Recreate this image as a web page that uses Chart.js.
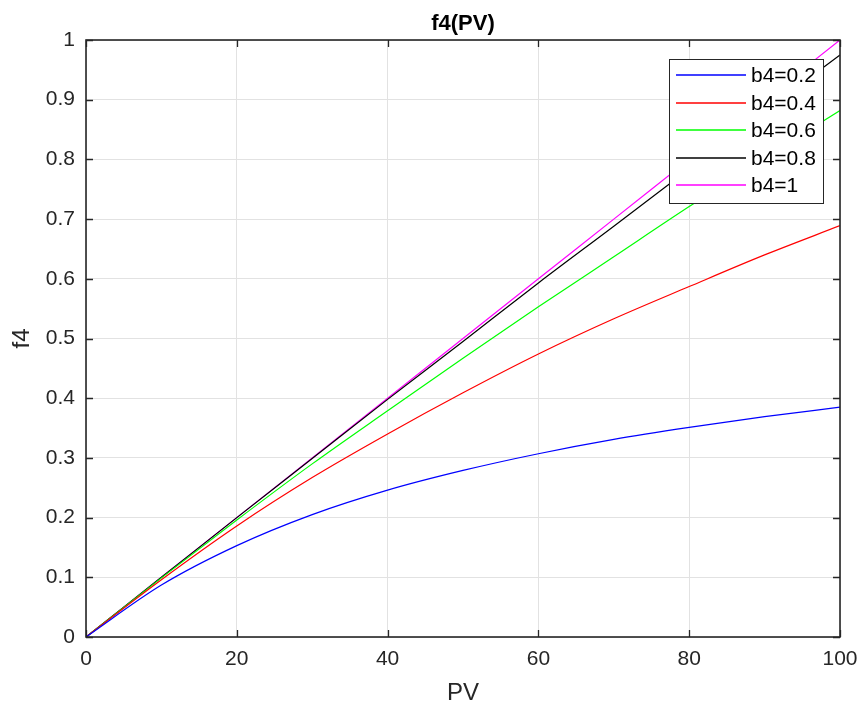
<!DOCTYPE html>
<html>
<head>
<meta charset="utf-8">
<script src="https://cdn.jsdelivr.net/npm/chart.js@4"></script>
<style>
  html, body { margin: 0; padding: 0; background: #ffffff; }
  #wrap { width: 862px; height: 706px; }
</style>
</head>
<body>
<div id="wrap"><canvas id="c" width="862" height="706"></canvas></div>
<script>
// PV sample points and f4 values for each b4 setting
const pv       = [0, 10, 20, 30, 40, 50, 60, 70, 80, 90, 100];
const f4_b4_02 = [0, 0.087, 0.153, 0.205, 0.246, 0.279, 0.307, 0.331, 0.351, 0.369, 0.385];
const f4_b4_04 = [0, 0.096, 0.186, 0.267, 0.340, 0.409, 0.474, 0.533, 0.587, 0.640, 0.689];
const f4_b4_06 = [0, 0.099, 0.196, 0.290, 0.379, 0.467, 0.553, 0.637, 0.721, 0.802, 0.882];
const f4_b4_08 = [0, 0.100, 0.200, 0.299, 0.398, 0.495, 0.593, 0.688, 0.784, 0.880, 0.975];
const f4_b4_10 = [0, 0.100, 0.200, 0.300, 0.400, 0.500, 0.600, 0.700, 0.800, 0.900, 1.000];

const seriesLabels = ['b4=0.2', 'b4=0.4', 'b4=0.6', 'b4=0.8', 'b4=1'];
const seriesValues = [f4_b4_02, f4_b4_04, f4_b4_06, f4_b4_08, f4_b4_10];
const seriesColors = ['#0000ff', '#ff0000', '#00ff00', '#000000', '#ff00ff'];

const xTickValues = [0, 20, 40, 60, 80, 100];
const xTickLabels = ['0', '20', '40', '60', '80', '100'];
const yTickValues = [0, 0.1, 0.2, 0.3, 0.4, 0.5, 0.6, 0.7, 0.8, 0.9, 1];
const yTickLabels = ['0', '0.1', '0.2', '0.3', '0.4', '0.5', '0.6', '0.7', '0.8', '0.9', '1'];

const titleText = 'f4(PV)';
const xLabelText = 'PV';
const yLabelText = 'f4';

const AXIS_COLOR = '#262626';
const GRID_COLOR = '#e2e2e2';
const FONT = '"Liberation Sans", Arial, Helvetica, sans-serif';

const datasets = seriesValues.map((vals, i) => ({
  label: seriesLabels[i],
  data: pv.map((x, j) => ({ x: x, y: vals[j] })),
  borderColor: seriesColors[i],
  backgroundColor: seriesColors[i],
  borderWidth: 1.2,
  pointRadius: 0,
  fill: false,
  cubicInterpolationMode: 'monotone'
}));

// Box around the axes, inward tick marks, titles and the framed legend
const frame = {
  id: 'frame',
  afterDraw(chart) {
    const ctx = chart.ctx;
    const a = chart.chartArea;
    const xs = chart.scales.x, ys = chart.scales.y;
    ctx.save();

    // inward ticks on all four sides
    ctx.strokeStyle = AXIS_COLOR;
    ctx.lineWidth = 1.3;
    const tl = 7;
    ctx.beginPath();
    xTickValues.forEach(v => {
      const px = Math.round(xs.getPixelForValue(v)) + 0.5;
      ctx.moveTo(px, a.bottom); ctx.lineTo(px, a.bottom - tl);
      ctx.moveTo(px, a.top); ctx.lineTo(px, a.top + tl);
    });
    yTickValues.forEach(v => {
      const py = Math.round(ys.getPixelForValue(v)) + 0.5;
      ctx.moveTo(a.left, py); ctx.lineTo(a.left + tl, py);
      ctx.moveTo(a.right, py); ctx.lineTo(a.right - tl, py);
    });
    ctx.stroke();

    // axes box
    ctx.lineWidth = 1.6;
    ctx.strokeRect(a.left, a.top, a.right - a.left, a.bottom - a.top);

    // legend
    const lx = 669, ly = 59.5, lw = 154, lh = 144;
    ctx.fillStyle = '#ffffff';
    ctx.fillRect(lx, ly, lw, lh);
    ctx.lineWidth = 1;
    ctx.strokeStyle = AXIS_COLOR;
    ctx.strokeRect(lx + 0.5, ly, lw, lh);
    ctx.font = '21px ' + FONT;
    ctx.textAlign = 'left';
    ctx.textBaseline = 'middle';
    seriesLabels.forEach((label, i) => {
      const y = Math.round(75 + i * 27.6);
      ctx.beginPath();
      ctx.strokeStyle = seriesColors[i];
      ctx.lineWidth = 1.6;
      ctx.moveTo(676, y);
      ctx.lineTo(746, y);
      ctx.stroke();
      ctx.fillStyle = '#000000';
      ctx.fillText(label, 751, y + 1);
    });

    // title and axis labels
    const cx = (a.left + a.right) / 2;
    ctx.fillStyle = '#000000';
    ctx.textAlign = 'center';
    ctx.textBaseline = 'alphabetic';
    ctx.font = 'bold 22px ' + FONT;
    ctx.fillText(titleText, cx, 30);

    ctx.fillStyle = AXIS_COLOR;
    ctx.font = '24px ' + FONT;
    ctx.textBaseline = 'middle';
    ctx.fillText(xLabelText, cx, 693);

    ctx.save();
    ctx.translate(22, (a.top + a.bottom) / 2);
    ctx.rotate(-Math.PI / 2);
    ctx.fillText(yLabelText, 0, 0);
    ctx.restore();

    ctx.restore();
  }
};

new Chart(document.getElementById('c'), {
  type: 'line',
  data: { datasets: datasets },
  options: {
    responsive: false,
    animation: false,
    devicePixelRatio: 1,
    layout: { padding: { top: 40, right: 22, left: 0, bottom: 0 } },
    plugins: {
      legend: { display: false },
      title: { display: false },
      tooltip: { enabled: false }
    },
    scales: {
      x: {
        type: 'linear',
        min: 0,
        max: 100,
        afterBuildTicks: s => { s.ticks = xTickValues.map(v => ({ value: v })); },
        afterFit: s => { s.height = 69; s.paddingLeft = 0; s.paddingRight = 0; },
        ticks: {
          callback: (v) => xTickLabels[xTickValues.indexOf(v)],
          color: AXIS_COLOR,
          font: { family: FONT, size: 21 },
          padding: 10,
          maxRotation: 0,
          autoSkip: false
        },
        grid: { color: GRID_COLOR, drawTicks: false, lineWidth: 1 },
        border: { display: false }
      },
      y: {
        type: 'linear',
        min: 0,
        max: 1,
        afterBuildTicks: s => { s.ticks = yTickValues.map(v => ({ value: v })); },
        afterFit: s => { s.width = 86; s.paddingTop = 0; s.paddingBottom = 0; },
        ticks: {
          callback: (v) => yTickLabels[yTickValues.findIndex(t => Math.abs(t - v) < 1e-9)],
          color: AXIS_COLOR,
          font: { family: FONT, size: 21 },
          padding: 11,
          autoSkip: false
        },
        grid: { color: GRID_COLOR, drawTicks: false, lineWidth: 1 },
        border: { display: false }
      }
    }
  },
  plugins: [frame]
});
</script>
</body>
</html>
